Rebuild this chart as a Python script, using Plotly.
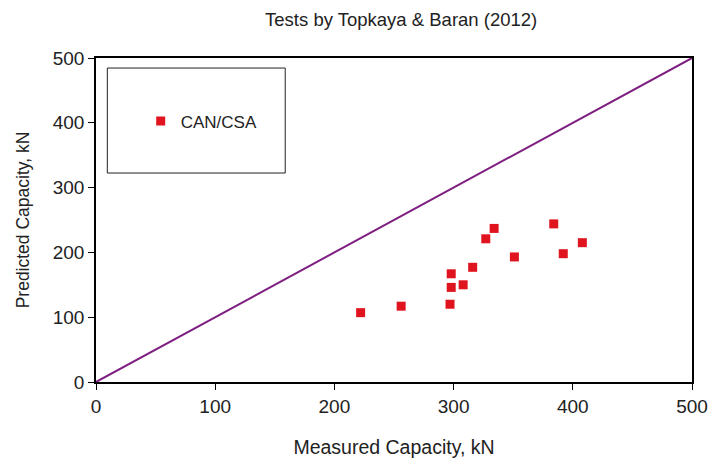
import plotly.graph_objects as go

# Data
measured = [222, 256, 297, 298, 298, 308, 316, 327, 334, 351, 384, 392, 408]
predicted = [107, 117, 120, 146, 167, 150, 177, 221, 237, 193, 244, 198, 215]
line_x = [0, 500]
line_y = [0, 500]
ticks = [0, 100, 200, 300, 400, 500]

FONT = "Liberation Sans, Arial, sans-serif"

fig = go.Figure()
fig.add_trace(go.Scatter(
    x=line_x, y=line_y, mode="lines",
    line=dict(color="#7E1E80", width=2),
    showlegend=False, hoverinfo="skip"))
fig.add_trace(go.Scatter(
    x=measured, y=predicted, mode="markers", name="CAN/CSA",
    marker=dict(symbol="square", size=9, color="#E0141F",
                line=dict(width=0))))

# legend frame
fig.add_shape(type="rect", xref="paper", yref="paper",
              x0=0.019, x1=0.3175, y0=0.645, y1=0.969,
              line=dict(color="#222222", width=1), fillcolor="rgba(0,0,0,0)")

axis_common = dict(
    range=[0, 500], tickvals=ticks, showgrid=False, zeroline=False,
    showline=True, linecolor="black", linewidth=1.5, mirror=True,
    ticks="outside", ticklen=6, tickcolor="black", tickwidth=1,
    tickfont=dict(family=FONT, size=19, color="#222222"),
    automargin=False,
)

fig.update_layout(
    width=708, height=463,
    margin=dict(l=96, r=16, t=58, b=81),
    paper_bgcolor="white", plot_bgcolor="white",
    title=dict(text="Tests by Topkaya &amp; Baran (2012)", x=0.512, xref="paper",
               y=0.957, yanchor="middle", xanchor="center",
               font=dict(family=FONT, size=18.5, color="#222222")),
    xaxis=dict(**axis_common,
               title=dict(text="Measured Capacity, kN", standoff=25,
                          font=dict(family=FONT, size=19.5, color="#222222"))),
    yaxis=dict(**axis_common,
               title=dict(text="Predicted Capacity, kN", standoff=19,
                          font=dict(family=FONT, size=17.5, color="#222222"))),
    legend=dict(x=0.075, y=0.804, xanchor="left", yanchor="middle",
                bgcolor="rgba(0,0,0,0)", borderwidth=0,
                font=dict(family=FONT, size=17, color="#222222"),
                itemwidth=30),
    showlegend=True,
)

fig.write_html("out.html")
